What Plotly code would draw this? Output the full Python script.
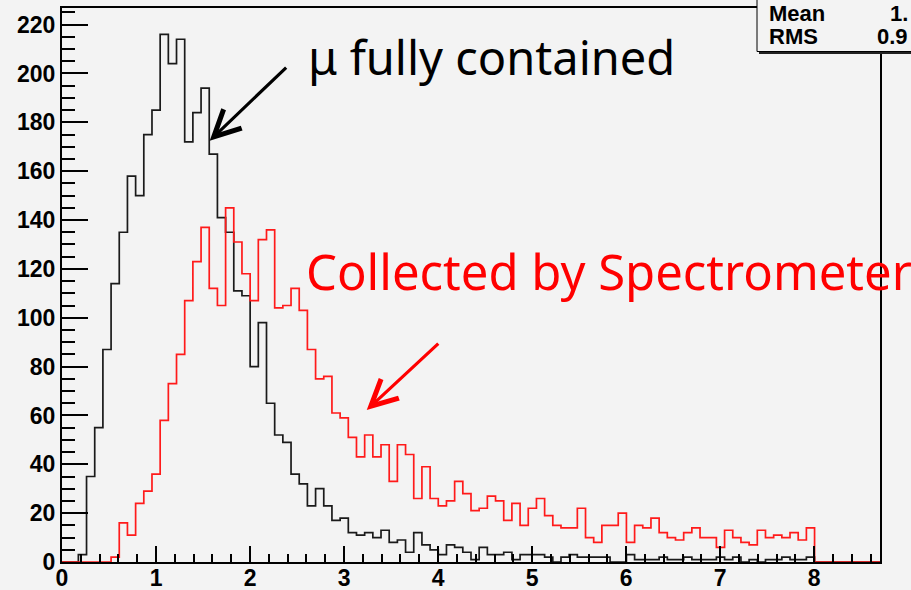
import numpy as np
import plotly.graph_objects as go

# ---------------- data ----------------
BIN_LO = 0.0
BIN_HI = 8.7
N_BINS = 100

mu_contained = [
    0, 0, 3, 35, 55, 87, 114, 135, 158, 150,
    175, 185, 216, 204, 214, 172, 184, 194, 167, 141,
    135, 111, 109, 80, 98, 65, 52, 49, 36, 32,
    23, 30, 23, 17, 18, 12, 11, 12, 10, 13,
    8, 9, 4, 12, 7, 5, 3, 7, 6, 4,
    1, 6, 3, 3, 4, 1, 3, 3, 3, 2,
    0, 2, 3, 2, 2, 2, 2, 0, 0, 3,
    1, 1, 1, 2, 1, 1, 2, 1, 1, 1,
    2, 1, 2, 0, 1, 0, 1, 1, 2, 1,
    1, 2, 0, 0, 0, 0, 0, 0, 0, 0,
]

spectrometer = [
    0, 0, 0, 0, 0, 0, 2, 16, 11, 24,
    29, 36, 58, 73, 85, 107, 123, 137, 112, 105,
    145, 131, 118, 107, 132, 136, 104, 105, 112, 103,
    87, 75, 76, 61, 59, 51, 43, 52, 43, 48,
    33, 48, 44, 26, 39, 26, 23, 25, 33, 28,
    21, 22, 27, 25, 17, 24, 15, 22, 26, 19,
    15, 14, 14, 22, 10, 8, 15, 15, 20, 8,
    15, 14, 18, 12, 10, 9, 12, 14, 10, 10,
    6, 13, 10, 8, 7, 13, 10, 11, 10, 12,
    9, 14, 0, 0, 0, 0, 0, 0, 0, 0,
]

y_tick_vals = [0, 20, 40, 60, 80, 100, 120, 140, 160, 180, 200, 220]
x_tick_vals = [0, 1, 2, 3, 4, 5, 6, 7, 8]

stats_labels = ["Mean", "RMS"]
stats_values = ["1.", "0.9"]

# ---------------- geometry ----------------
W, H = 911, 590
ML, MR, MT, MB = 62, 31, 8, 28
PW, PH = W - ML - MR, H - MT - MB
BG = "#f3f3f3"
Y_MAX = 226.8


def px_x(p):
    return (p - ML) / PW


def px_y(p):
    return (H - MB - p) / PH


edges = np.linspace(BIN_LO, BIN_HI, N_BINS + 1)


def step_trace(vals, color):
    y = list(vals) + [vals[-1]]
    return go.Scatter(
        x=edges, y=y, mode="lines", line=dict(shape="hv", color=color, width=1.7),
        hoverinfo="skip", showlegend=False,
    )


fig = go.Figure()
fig.add_trace(step_trace(mu_contained, "#1a1a1a"))
fig.add_trace(step_trace(spectrometer, "#ff1a1a"))

tickfont = dict(family="Liberation Sans, Arial, sans-serif", size=23, color="black", weight="bold")

fig.update_xaxes(
    range=[BIN_LO, BIN_HI], tickvals=x_tick_vals, ticktext=[str(v) for v in x_tick_vals],
    ticks="inside", ticklen=16, tickwidth=1.5, tickcolor="black",
    minor=dict(dtick=0.2, ticks="inside", ticklen=8, tickwidth=1.5, tickcolor="black", showgrid=False),
    showline=True, linecolor="black", linewidth=2, mirror=True,
    showgrid=False, zeroline=False, tickfont=tickfont, automargin=False,
    ticklabelstandoff=-6,
)
fig.update_yaxes(
    range=[0, Y_MAX], tickvals=y_tick_vals, ticktext=[str(v) for v in y_tick_vals],
    ticks="inside", ticklen=26, tickwidth=1.5, tickcolor="black",
    minor=dict(dtick=5, ticks="inside", ticklen=13, tickwidth=1.5, tickcolor="black", showgrid=False),
    showline=True, linecolor="black", linewidth=2, mirror=True,
    showgrid=False, zeroline=False, tickfont=tickfont, automargin=False,
)

annotations = []
# arrows
annotations.append(dict(
    x=1.571, y=172.5, ax=2.40, ay=203.0, xref="x", yref="y", axref="x", ayref="y",
    showarrow=True, arrowhead=5, arrowsize=1.6, arrowwidth=3.2, arrowcolor="black", text="",
))
annotations.append(dict(
    x=3.241, y=62.2, ax=4.018, ay=90.0, xref="x", yref="y", axref="x", ayref="y",
    showarrow=True, arrowhead=5, arrowsize=1.6, arrowwidth=3.2, arrowcolor="#ff0000", text="",
))
# labels
annotations.append(dict(
    x=px_x(306), y=px_y(57), xref="paper", yref="paper", xanchor="left", yanchor="middle",
    text="\u03bc fully contained", showarrow=False,
    font=dict(family="Noto Sans", size=47, color="black"),
))
annotations.append(dict(
    x=px_x(304), y=px_y(271), xref="paper", yref="paper", xanchor="left", yanchor="middle",
    text="Collected by Spectrometer", showarrow=False,
    font=dict(family="Noto Sans", size=49, color="#ff0000"),
))
# stats box text
statfont = dict(family="Liberation Sans, Arial, sans-serif", size=22, color="black", weight="bold")
for i, (lab, val) in enumerate(zip(stats_labels, stats_values)):
    cy = 13 + 24 * i
    annotations.append(dict(
        x=px_x(767), y=px_y(cy), xref="paper", yref="paper", xanchor="left", yanchor="middle",
        text=lab, showarrow=False, font=statfont,
    ))
    annotations.append(dict(
        x=px_x(910), y=px_y(cy), xref="paper", yref="paper",
        xanchor="right", yanchor="middle", text=val, showarrow=False, font=statfont,
    ))

shapes = [
    # shadow
    dict(type="rect", xref="paper", yref="paper", x0=px_x(759), x1=px_x(930), y0=px_y(54),
         y1=px_y(-10), fillcolor="#222222", line=dict(width=0), layer="above"),
    # box
    dict(type="rect", xref="paper", yref="paper", x0=px_x(757), x1=px_x(928), y0=px_y(51.5),
         y1=px_y(-12), fillcolor=BG, line=dict(color="black", width=1), layer="above"),
]

fig.update_layout(
    width=W, height=H, margin=dict(l=ML, r=MR, t=MT, b=MB, autoexpand=False),
    paper_bgcolor=BG, plot_bgcolor=BG, showlegend=False,
    annotations=annotations, shapes=shapes,
)

fig.write_html("out.html")
